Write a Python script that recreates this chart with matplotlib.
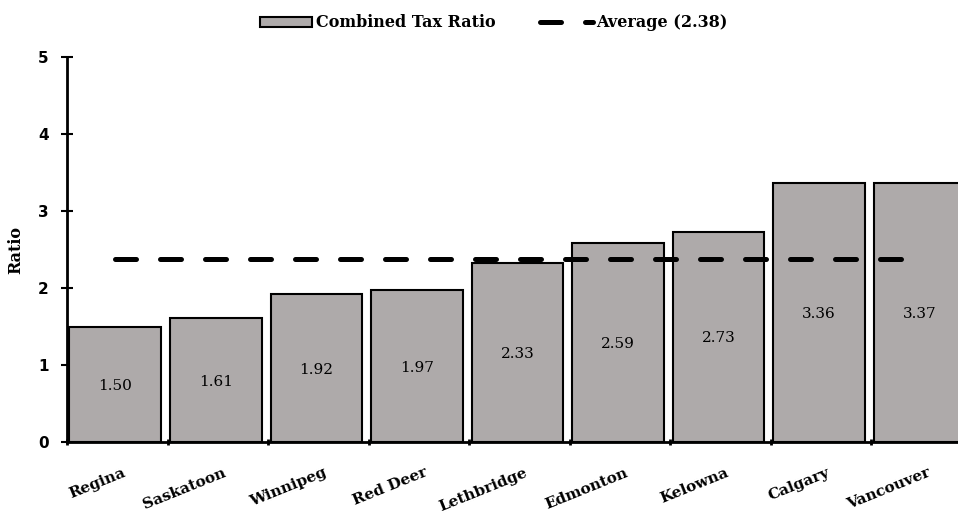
import matplotlib
matplotlib.use('Agg')
import matplotlib.pyplot as plt
import numpy as np

# data
cities = ['Regina', 'Saskatoon', 'Winnipeg', 'Red Deer', 'Lethbridge',
          'Edmonton', 'Kelowna', 'Calgary', 'Vancouver']
ratios = [1.50, 1.61, 1.92, 1.97, 2.33, 2.59, 2.73, 3.36, 3.37]
average = 2.38
yticks = [0, 1, 2, 3, 4, 5]

serif = 'DejaVu Serif'

fig = plt.figure(figsize=(9.58, 5.14), dpi=100)
ax = fig.add_axes([0.0699, 0.140, 0.9447, 0.749])

x = np.arange(len(cities)) + 0.48
bars = ax.bar(x, ratios, width=0.91, color='#aeaaaa', edgecolor='black', linewidth=1.5,
              label='Combined Tax Ratio', zorder=2)
line, = ax.plot(x, [average] * len(cities), color='black', linewidth=3.6,
                dashes=(4.2, 4.8), dash_capstyle='round',
                label='Average (%.2f)' % average, zorder=3)

for xi, v in zip(x, ratios):
    ax.text(xi, v / 2, '%.2f' % v, ha='center', va='center_baseline',
            fontsize=11, family=serif, zorder=4)

ax.set_xlim(0, len(cities))
ax.set_ylim(0, 5)

# boundaries get tick marks, names sit at centers
ax.set_xticks(np.arange(len(cities) + 1))
ax.set_xticklabels([])
ax.set_xticks(x + 0.07, minor=True)
ax.set_xticklabels(cities, minor=True, rotation=22, ha='right',
                   rotation_mode='anchor', family=serif, fontweight='bold',
                   fontsize=11)
ax.tick_params(axis='x', which='major', length=5, width=2, direction='inout')
ax.tick_params(axis='x', which='minor', length=0, pad=17)

ax.set_yticks(yticks)
ax.set_yticklabels([str(t) for t in yticks], fontweight='bold', fontsize=11)
ax.tick_params(axis='y', length=8, width=1.5, direction='inout', pad=9)

ax.set_ylabel('Ratio', family=serif, fontweight='bold', fontsize=11.5, labelpad=10)

for s in ['top', 'right']:
    ax.spines[s].set_visible(False)
ax.spines['left'].set_linewidth(2)
ax.spines['bottom'].set_linewidth(2)

fig.legend([bars, line], [bars.get_label(), line.get_label()],
           loc='upper center', bbox_to_anchor=(0.515, 1.0), ncol=2, frameon=False,
           prop={'family': serif, 'weight': 'bold', 'size': 11.5},
           handlelength=3.3, handleheight=0.6, columnspacing=2.8, handletextpad=0.2)

fig.savefig('out.png', dpi=100)
